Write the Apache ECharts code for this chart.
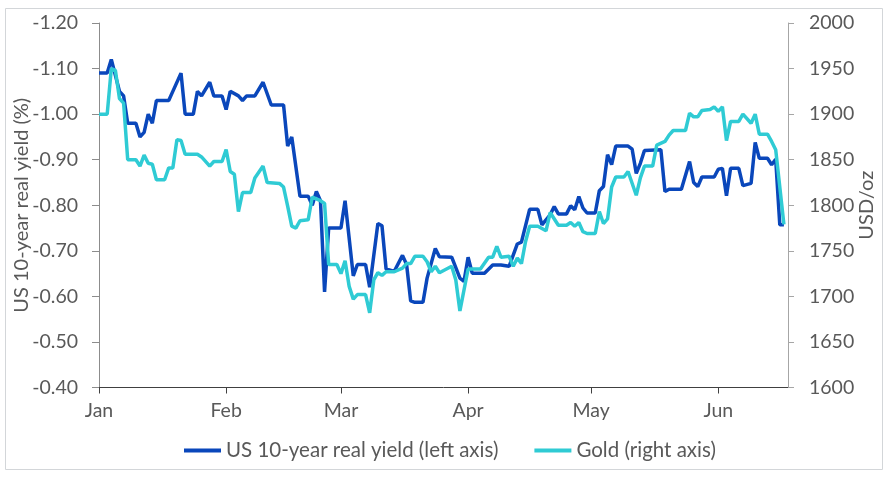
<!DOCTYPE html>
<html lang="en">

<head>
    <meta charset="UTF-8">
    <title>US real yield vs gold</title>
    <style>
        html, body { margin: 0; padding: 0; background: #fff; }
    </style>
</head>

<body>
    <div id="chart-box" style="width:887px; height:477px"></div>

    <script src="https://cdn.jsdelivr.net/npm/echarts/dist/echarts.min.js"></script>

    <script>
        // US 10-year real yield (%), left axis (inverted)
        const yieldDates = [
            '2021-01-01', '2021-01-03', '2021-01-04', '2021-01-06', '2021-01-07', '2021-01-08', '2021-01-10', '2021-01-11',
            '2021-01-12', '2021-01-13', '2021-01-14', '2021-01-15', '2021-01-18', '2021-01-19', '2021-01-21', '2021-01-22',
            '2021-01-24', '2021-01-25', '2021-01-26', '2021-01-28', '2021-01-29', '2021-01-31', '2021-02-01', '2021-02-02',
            '2021-02-04', '2021-02-05', '2021-02-06', '2021-02-08', '2021-02-10', '2021-02-12', '2021-02-15', '2021-02-16',
            '2021-02-17', '2021-02-19', '2021-02-21', '2021-02-22', '2021-02-23', '2021-02-24', '2021-02-25', '2021-02-26',
            '2021-03-01', '2021-03-02', '2021-03-04', '2021-03-05', '2021-03-07', '2021-03-08', '2021-03-10', '2021-03-11',
            '2021-03-12', '2021-03-14', '2021-03-16', '2021-03-17', '2021-03-18', '2021-03-19', '2021-03-21', '2021-03-22',
            '2021-03-24', '2021-03-25', '2021-03-28', '2021-03-30', '2021-03-31', '2021-04-01', '2021-04-02', '2021-04-05',
            '2021-04-07', '2021-04-09', '2021-04-11', '2021-04-13', '2021-04-14', '2021-04-16', '2021-04-18', '2021-04-19',
            '2021-04-21', '2021-04-22', '2021-04-23', '2021-04-25', '2021-04-26', '2021-04-27', '2021-04-28', '2021-04-29',
            '2021-04-30', '2021-05-02', '2021-05-03', '2021-05-04', '2021-05-05', '2021-05-06', '2021-05-07', '2021-05-10',
            '2021-05-11', '2021-05-12', '2021-05-13', '2021-05-14', '2021-05-18', '2021-05-19', '2021-05-20', '2021-05-23',
            '2021-05-25', '2021-05-26', '2021-05-27', '2021-05-28', '2021-05-31', '2021-06-01', '2021-06-02', '2021-06-03',
            '2021-06-04', '2021-06-06', '2021-06-07', '2021-06-09', '2021-06-10', '2021-06-11', '2021-06-13', '2021-06-14',
            '2021-06-15', '2021-06-16', '2021-06-17'
        ];
        const yieldValues = [
            -1.09, -1.09, -1.12, -1.05, -1.04, -0.98, -0.98, -0.95,
            -0.96, -1.00, -0.98, -1.03, -1.03, -1.05, -1.09, -1.00,
            -1.00, -1.05, -1.04, -1.07, -1.04, -1.04, -1.01, -1.05,
            -1.04, -1.03, -1.04, -1.04, -1.07, -1.02, -1.02, -0.93,
            -0.95, -0.82, -0.82, -0.80, -0.83, -0.81, -0.61, -0.75,
            -0.75, -0.81, -0.645, -0.67, -0.67, -0.62, -0.76, -0.755,
            -0.66, -0.655, -0.69, -0.67, -0.59, -0.587, -0.587, -0.64,
            -0.705, -0.687, -0.686, -0.64, -0.633, -0.686, -0.651, -0.651,
            -0.669, -0.669, -0.666, -0.715, -0.719, -0.791, -0.791, -0.757,
            -0.779, -0.797, -0.781, -0.781, -0.799, -0.79, -0.819, -0.794,
            -0.783, -0.783, -0.832, -0.841, -0.911, -0.889, -0.93, -0.93,
            -0.923, -0.87, -0.892, -0.92, -0.922, -0.83, -0.835, -0.835,
            -0.896, -0.85, -0.841, -0.862, -0.862, -0.879, -0.881, -0.821,
            -0.881, -0.881, -0.843, -0.848, -0.938, -0.903, -0.903, -0.889,
            -0.901, -0.757, -0.757
        ];

        // Gold price (USD/oz), right axis
        const goldDates = [
            '2021-01-01', '2021-01-03', '2021-01-04', '2021-01-05', '2021-01-06', '2021-01-07', '2021-01-08', '2021-01-10',
            '2021-01-11', '2021-01-12', '2021-01-13', '2021-01-14', '2021-01-15', '2021-01-17', '2021-01-18', '2021-01-19',
            '2021-01-20', '2021-01-21', '2021-01-22', '2021-01-25', '2021-01-26', '2021-01-28', '2021-01-29', '2021-01-31',
            '2021-02-01', '2021-02-02', '2021-02-03', '2021-02-04', '2021-02-05', '2021-02-07', '2021-02-08', '2021-02-10',
            '2021-02-11', '2021-02-14', '2021-02-15', '2021-02-16', '2021-02-17', '2021-02-18', '2021-02-19', '2021-02-21',
            '2021-02-22', '2021-02-24', '2021-02-25', '2021-02-26', '2021-02-28', '2021-03-01', '2021-03-02', '2021-03-03',
            '2021-03-04', '2021-03-05', '2021-03-07', '2021-03-08', '2021-03-09', '2021-03-10', '2021-03-11', '2021-03-12',
            '2021-03-14', '2021-03-16', '2021-03-17', '2021-03-18', '2021-03-19', '2021-03-21', '2021-03-22', '2021-03-23',
            '2021-03-24', '2021-03-25', '2021-03-28', '2021-03-29', '2021-03-30', '2021-04-01', '2021-04-04', '2021-04-06',
            '2021-04-07', '2021-04-08', '2021-04-09', '2021-04-11', '2021-04-12', '2021-04-13', '2021-04-14', '2021-04-15',
            '2021-04-16', '2021-04-18', '2021-04-20', '2021-04-21', '2021-04-23', '2021-04-25', '2021-04-26', '2021-04-27',
            '2021-04-28', '2021-04-29', '2021-04-30', '2021-05-02', '2021-05-03', '2021-05-04', '2021-05-05', '2021-05-06',
            '2021-05-07', '2021-05-09', '2021-05-10', '2021-05-12', '2021-05-13', '2021-05-14', '2021-05-16', '2021-05-17',
            '2021-05-19', '2021-05-20', '2021-05-21', '2021-05-24', '2021-05-25', '2021-05-26', '2021-05-27', '2021-05-28',
            '2021-05-30', '2021-05-31', '2021-06-01', '2021-06-02', '2021-06-03', '2021-06-04', '2021-06-06', '2021-06-07',
            '2021-06-09', '2021-06-10', '2021-06-11', '2021-06-13', '2021-06-14', '2021-06-15', '2021-06-17'
        ];
        const goldValues = [
            1900, 1900, 1950, 1948, 1917, 1912, 1850, 1850,
            1843, 1855, 1846, 1845, 1828, 1828, 1841, 1841,
            1872, 1871, 1856, 1856, 1853, 1843, 1848, 1848,
            1861, 1837, 1834, 1793, 1814, 1814, 1830, 1843,
            1825, 1824, 1820, 1799, 1777, 1775, 1783, 1784,
            1809, 1805, 1802, 1735, 1735, 1725, 1739, 1711,
            1697, 1702, 1702, 1682, 1718, 1726, 1723, 1727,
            1727, 1731, 1736, 1736, 1744, 1744, 1738, 1727,
            1733, 1726, 1733, 1718, 1684, 1730, 1730, 1743,
            1743, 1755, 1743, 1744, 1733, 1742, 1736, 1760,
            1777, 1777, 1772, 1792, 1778, 1778, 1781, 1777,
            1781, 1771, 1769, 1769, 1793, 1780, 1785, 1820,
            1831, 1831, 1837, 1811, 1830, 1843, 1843, 1866,
            1870, 1877, 1882, 1882, 1901, 1897, 1897, 1904,
            1905, 1908, 1903, 1908, 1871, 1892, 1892, 1900,
            1890, 1900, 1878, 1878, 1870, 1861, 1779
        ];

        const seriesNames = ['US 10-year real yield (left axis)', 'Gold (right axis)'];
        const monthNames = ['Jan', 'Feb', 'Mar', 'Apr', 'May', 'Jun', 'Jul', 'Aug', 'Sep', 'Oct', 'Nov', 'Dec'];

        const textColor = '#595959';
        const fontFamily = 'Lato, "Noto Sans", sans-serif';

        const chart = echarts.init(document.querySelector('#chart-box'));

        chart.setOption({
            animation: false,
            textStyle: { fontFamily: fontFamily, color: textColor },
            // light frame round the whole chart
            graphic: [{
                type: 'rect',
                shape: { x: 5.5, y: 8.5, width: 877, height: 461 },
                style: { fill: 'none', stroke: '#d3d6d9', lineWidth: 1 },
                silent: true
            }],
            // fixed plot area, labels are allowed to sit outside it
            grid: { left: 99, right: 99, top: 23, bottom: 89.5, containLabel: false, outerBoundsMode: 'none' },
            legend: {
                bottom: 11,
                left: 179,
                icon: 'rect',
                itemWidth: 37,
                itemHeight: 4,
                itemGap: 36,
                textStyle: { fontSize: 20.5, color: textColor, fontFamily: fontFamily },
                data: seriesNames
            },
            xAxis: {
                type: 'time',
                min: '2021-01-01',
                max: '2021-06-18',
                minInterval: 28 * 86400000,
                maxInterval: 31 * 86400000,
                splitLine: { show: false },
                axisLine: { lineStyle: { color: '#404040', width: 1 } },
                axisTick: { show: true, length: 6, lineStyle: { color: '#404040' } },
                axisLabel: {
                    fontSize: 19.5,
                    color: textColor,
                    margin: 13,
                    formatter: (v) => monthNames[new Date(v).getMonth()]
                }
            },
            yAxis: [{
                type: 'value',
                inverse: true,
                min: -1.2,
                max: -0.4,
                interval: 0.1,
                name: 'US 10-year real yield (%)',
                nameLocation: 'middle',
                nameRotate: 90,
                nameGap: 67,
                nameMoveOverlap: false,
                nameTextStyle: { fontSize: 20, color: textColor },
                splitLine: { show: false },
                axisLine: { show: true, lineStyle: { color: '#8c8c8c' } },
                axisTick: { show: true, length: 7, lineStyle: { color: '#8c8c8c' } },
                axisLabel: {
                    fontSize: 19.5,
                    color: textColor,
                    margin: 21,
                    formatter: (v) => v.toFixed(2)
                }
            }, {
                type: 'value',
                position: 'right',
                min: 1600,
                max: 2000,
                interval: 50,
                name: 'USD/oz',
                nameLocation: 'middle',
                nameRotate: 90,
                nameGap: 69,
                nameMoveOverlap: false,
                nameTextStyle: { fontSize: 20, color: textColor },
                splitLine: { show: false },
                axisLine: { show: true, lineStyle: { color: '#a6a6a6' } },
                axisTick: { show: true, length: 6, lineStyle: { color: '#a6a6a6' } },
                axisLabel: {
                    fontSize: 19.5,
                    color: textColor,
                    margin: 21,
                    formatter: (v) => String(v)
                }
            }],
            series: [{
                name: seriesNames[0],
                type: 'line',
                yAxisIndex: 0,
                showSymbol: false,
                symbol: 'none',
                color: '#0a47bb',
                lineStyle: { width: 3.5, color: '#0a47bb' },
                data: yieldDates.map((d, i) => [d, yieldValues[i]])
            }, {
                name: seriesNames[1],
                type: 'line',
                yAxisIndex: 1,
                showSymbol: false,
                symbol: 'none',
                color: '#2fcbd4',
                lineStyle: { width: 3.5, color: '#2fcbd4' },
                data: goldDates.map((d, i) => [d, goldValues[i]])
            }]
        });
    </script>
</body>

</html>
